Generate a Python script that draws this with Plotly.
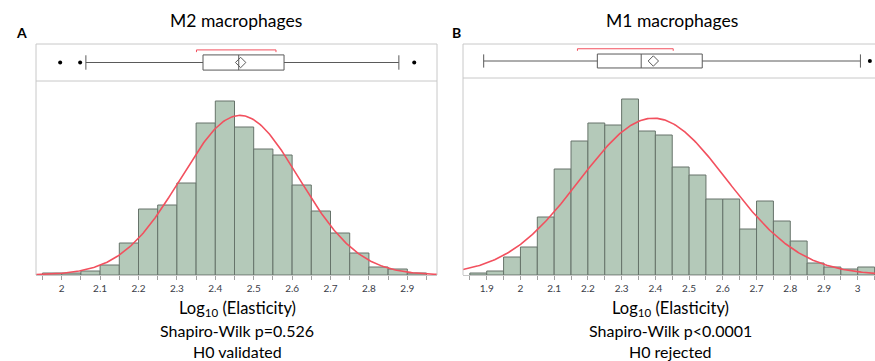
import numpy as np
import plotly.graph_objects as go

W, H = 875, 361

# ---------------- data ----------------
bin_width = 0.05

# Panel A: M2 macrophages
m2_bin_start = 1.95
m2_counts = [1, 1, 2, 5, 16, 33, 35, 46, 76, 87, 74, 63, 60, 45, 32, 21, 11, 4, 3, 1]
m2_mean, m2_sd = 2.464, 0.154
m2_q1, m2_median, m2_q3 = 2.368, 2.461, 2.579
m2_whisker_lo, m2_whisker_hi = 2.063, 2.878
m2_box_mean = 2.466
m2_outliers = [1.996, 2.048, 2.918]
m2_shortest_half = [2.351, 2.558]
m2_tickvals = [2.0, 2.1, 2.2, 2.3, 2.4, 2.5, 2.6, 2.7, 2.8, 2.9]
m2_ticktext = ["2", "2.1", "2.2", "2.3", "2.4", "2.5", "2.6", "2.7", "2.8", "2.9"]

# Panel B: M1 macrophages
m1_bin_start = 1.85
m1_counts = [1, 2, 9, 14, 29, 53, 67, 76, 75, 88, 72, 70, 54, 50, 38, 38, 23, 37, 27, 17, 6, 4, 3, 4]
m1_mean, m1_sd = 2.394, 0.218
m1_q1, m1_median, m1_q3 = 2.228, 2.358, 2.539
m1_whisker_lo, m1_whisker_hi = 1.891, 3.008
m1_box_mean = 2.394
m1_outliers = [3.036]
m1_shortest_half = [2.169, 2.453]
m1_tickvals = [1.9, 2.0, 2.1, 2.2, 2.3, 2.4, 2.5, 2.6, 2.7, 2.8, 2.9, 3.0]
m1_ticktext = ["1.9", "2", "2.1", "2.2", "2.3", "2.4", "2.5", "2.6", "2.7", "2.8", "2.9", "3"]

titles = ["M2 macrophages", "M1 macrophages"]
panel_letters = ["A", "B"]
stat_lines = [["Shapiro-Wilk p=0.526", "H0 validated"],
              ["Shapiro-Wilk p<0.0001", "H0 rejected"]]
axis_title = "Log<sub>10</sub> (Elasticity)"

# ---------------- style ----------------
FONT = "Lato"
BAR_FILL = "#b4c9b9"
BAR_LINE = "#66736a"
CURVE = "#f2505e"
BOX_LINE = "#5a5a5a"
FRAME = "#c8c8c8"
TICK_COL = "#3a3d48"


def px(x):
    return x / W


def py(y):
    return 1 - y / H


fig = go.Figure()


def add_panel(idx, bin_start, counts, mean, sd, q1, med, q3, wlo, whi, bmean,
              outliers, shorth, xrange, yrange, hist_dom_x, hist_dom_y, box_dom_y,
              tickvals, ticktext, bracket_y):
    n_hist = 2 * idx + 1
    n_box = 2 * idx + 2
    xa_h = "x" if n_hist == 1 else f"x{n_hist}"
    ya_h = "y" if n_hist == 1 else f"y{n_hist}"
    xa_b = f"x{n_box}"
    ya_b = f"y{n_box}"

    centers = [bin_start + bin_width * (i + 0.5) for i in range(len(counts))]
    fig.add_trace(go.Bar(x=centers, y=counts, width=bin_width,
                         marker=dict(color=BAR_FILL, line=dict(color=BAR_LINE, width=1)),
                         xaxis=xa_h, yaxis=ya_h, showlegend=False, hoverinfo="skip"))
    n = sum(counts)
    xs = np.linspace(xrange[0], xrange[1], 300)
    ys = n * bin_width * np.exp(-0.5 * ((xs - mean) / sd) ** 2) / (sd * np.sqrt(2 * np.pi))
    fig.add_trace(go.Scatter(x=xs, y=ys, mode="lines", line=dict(color=CURVE, width=1.6),
                             xaxis=xa_h, yaxis=ya_h, showlegend=False, hoverinfo="skip"))

    # box plot
    fig.add_trace(go.Box(orientation="h", y=[0], q1=[q1], median=[med], q3=[q3],
                         lowerfence=[wlo], upperfence=[whi], width=0.82, whiskerwidth=0.95,
                         boxpoints=False, fillcolor="white",
                         line=dict(color=BOX_LINE, width=1),
                         xaxis=xa_b, yaxis=ya_b, showlegend=False, hoverinfo="skip"))
    fig.add_trace(go.Scatter(x=[bmean], y=[0], mode="markers",
                             marker=dict(symbol="diamond-open", size=8,
                                         line=dict(color=BOX_LINE, width=1), color=BOX_LINE),
                             xaxis=xa_b, yaxis=ya_b, showlegend=False, hoverinfo="skip"))
    fig.add_trace(go.Scatter(x=outliers, y=[0] * len(outliers), mode="markers",
                             marker=dict(symbol="circle", size=4, color="black"),
                             xaxis=xa_b, yaxis=ya_b, showlegend=False, hoverinfo="skip"))
    fig.add_trace(go.Scatter(x=[shorth[0], shorth[0], shorth[1], shorth[1]],
                             y=[bracket_y - 0.12, bracket_y, bracket_y, bracket_y - 0.12],
                             mode="lines", line=dict(color=CURVE, width=1),
                             xaxis=xa_b, yaxis=ya_b, showlegend=False, hoverinfo="skip"))

    key_xh = "xaxis" if n_hist == 1 else f"xaxis{n_hist}"
    key_yh = "yaxis" if n_hist == 1 else f"yaxis{n_hist}"
    fig.layout[key_xh] = dict(
        domain=hist_dom_x, range=xrange, anchor=ya_h,
        showline=True, linecolor=FRAME, linewidth=1,
        tickvals=tickvals, ticktext=ticktext, ticks="outside", ticklen=4,
        tickcolor="#a0a0a0", tickwidth=1,
        tickfont=dict(family=FONT, size=10, color=TICK_COL),
        minor=dict(tick0=bin_start, dtick=bin_width, ticks="outside", ticklen=4,
                   tickcolor="#a0a0a0", tickwidth=1, showgrid=False),
        showgrid=False, zeroline=False, fixedrange=True)
    fig.layout[key_yh] = dict(domain=hist_dom_y, range=yrange, anchor=xa_h,
                              visible=False, showgrid=False, zeroline=False)
    fig.layout[f"xaxis{n_box}"] = dict(domain=hist_dom_x, range=xrange, anchor=ya_b,
                                       visible=False, showgrid=False, zeroline=False)
    fig.layout[f"yaxis{n_box}"] = dict(domain=box_dom_y, range=[-1, 1], anchor=xa_b,
                                       visible=False, showgrid=False, zeroline=False)


# panel geometry (pixels)
L_x0, L_x1 = 36, 437
R_x0, R_x1 = 463, 875
top_y, base_y = 44, 275
L_sep, R_sep = 81, 78

add_panel(0, m2_bin_start, m2_counts, m2_mean, m2_sd, m2_q1, m2_median, m2_q3,
          m2_whisker_lo, m2_whisker_hi, m2_box_mean, m2_outliers, m2_shortest_half,
          [1.9331, 2.9773], [0, 97],
          [px(L_x0), px(L_x1)], [py(base_y), py(L_sep)], [py(L_sep), py(top_y)],
          m2_tickvals, m2_ticktext, 0.68)
add_panel(1, m1_bin_start, m1_counts, m1_mean, m1_sd, m1_q1, m1_median, m1_q3,
          m1_whisker_lo, m1_whisker_hi, m1_box_mean, m1_outliers, m1_shortest_half,
          [1.8297, 3.0512], [0, 98.5],
          [px(R_x0), 1.0], [py(base_y), py(R_sep)], [py(R_sep), py(top_y)],
          m1_tickvals, m1_ticktext, 0.72)

# frame lines
shapes = []
def line(x0, y0, x1, y1):
    shapes.append(dict(type="line", xref="paper", yref="paper",
                       x0=px(x0), y0=py(y0), x1=px(x1), y1=py(y1),
                       line=dict(color=FRAME, width=1)))

line(L_x0, top_y, L_x1, top_y)
line(L_x0, top_y, L_x0, base_y)
line(L_x1, top_y, L_x1, base_y)
line(L_x0, L_sep, L_x1, L_sep)
line(R_x0, top_y, R_x1, top_y)
line(R_x0, top_y, R_x0, base_y)
line(R_x0, R_sep, R_x1, R_sep)

annotations = []
def text(x, y, s, size=16, bold=False):
    annotations.append(dict(xref="paper", yref="paper", x=px(x), y=py(y), text=(f"<b>{s}</b>" if bold else s),
                            showarrow=False, xanchor="center", yanchor="middle",
                            font=dict(family=FONT, size=size, color="black")))

text(236, 20, titles[0], size=17.5)
text(672, 20, titles[1], size=17.5)
text(21, 32, panel_letters[0], size=14, bold=True)
text(457, 32, panel_letters[1], size=14, bold=True)
text(237, 308, axis_title, size=16.5)
text(670, 308, axis_title, size=16.5)
text(237, 330, stat_lines[0][0])
text(237, 351, stat_lines[0][1])
text(670, 330, stat_lines[1][0])
text(670, 351, stat_lines[1][1])

fig.update_layout(width=W, height=H, margin=dict(l=0, r=0, t=0, b=0),
                  paper_bgcolor="white", plot_bgcolor="white",
                  shapes=shapes, annotations=annotations, bargap=0,
                  showlegend=False)

fig.write_html("out.html", config={"displayModeBar": False, "staticPlot": True},
               post_script="document.body.style.margin='0';document.body.style.overflow='hidden';")
